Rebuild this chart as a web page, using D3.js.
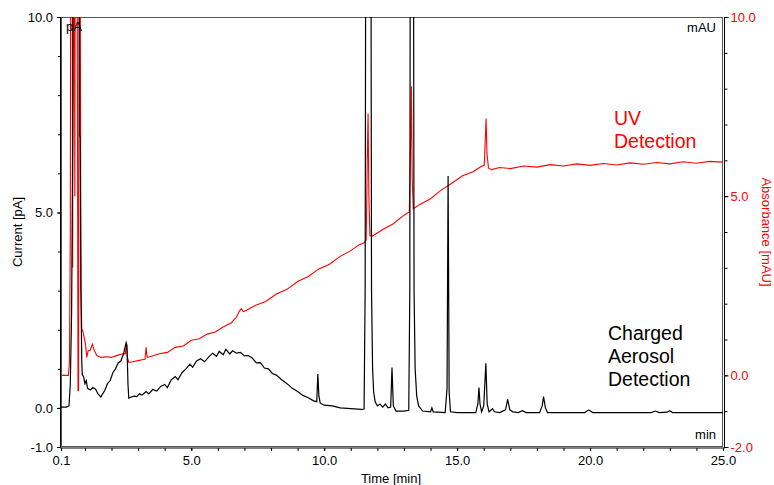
<!DOCTYPE html>
<html>

<head>
    <meta charset="utf-8">
    <style>
        body {
            margin: 0;
            background: #fff;
        }

        svg text {
            font-family: "Liberation Sans", Arial, Helvetica, sans-serif;
        }

        .tick text {
            font-size: 13px;
        }

        .axis .domain {
            display: none;
        }
    </style>
    <script src="https://d3js.org/d3.v7.min.js"></script>
</head>

<body>
    <svg width="774" height="485"></svg>
    <script>
        // charged aerosol detector trace (pA), time in min
        var cadTimes = [0.10, 0.30, 0.40, 0.45, 0.50, 0.55, 0.58, 0.78, 0.80, 0.82, 0.85, 0.88, 0.90, 0.95, 1.00, 1.05, 1.10, 1.20, 1.30, 1.40,
            1.50, 1.60, 1.65, 1.75, 1.85, 1.95, 2.05, 2.15, 2.25, 2.35, 2.45, 2.55, 2.58, 2.62, 2.65, 2.75, 2.85, 2.95, 3.05, 3.15,
            3.30, 3.40, 3.55, 3.70, 3.85, 4.00, 4.10, 4.25, 4.40, 4.50, 4.65, 4.80, 4.95, 5.05, 5.20, 5.35, 5.50, 5.65, 5.80, 5.95,
            6.05, 6.20, 6.30, 6.45, 6.55, 6.70, 6.85, 7.00, 7.15, 7.30, 7.45, 7.60, 7.75, 7.90, 8.05, 8.20, 8.40, 8.60, 8.80, 9.00,
            9.20, 9.40, 9.60, 9.72, 9.76, 9.80, 9.85, 10.0, 10.3, 10.6, 11.0, 11.4, 11.50, 11.54, 11.58, 11.74, 11.78, 11.82, 11.86, 11.92,
            12.0, 12.1, 12.2, 12.3, 12.4, 12.50, 12.55, 12.60, 12.7, 13.0, 13.18, 13.22, 13.25, 13.34, 13.38, 13.42, 13.48, 13.55, 13.7, 14.0,
            14.05, 14.1, 14.55, 14.62, 14.66, 14.70, 14.75, 15.0, 15.7, 15.78, 15.82, 15.86, 15.92, 16.0, 16.08, 16.13, 16.2, 16.33, 16.4, 16.6,
            16.82, 16.9, 16.98, 17.1, 17.3, 17.45, 17.6, 18.1, 18.2, 18.25, 18.32, 18.4, 19.8, 19.95, 20.1, 22.3, 22.46, 22.6, 22.9, 23.0,
            23.1, 25.0];
        var cadValues = [0.02, 0.02, 0.05, 0.6, 2.5, 8, 20, 20, 7.0, 6.9, 3, 1.2, 0.85, 0.8, 0.62, 0.7, 0.5, 0.46, 0.52, 0.48,
            0.35, 0.28, 0.34, 0.45, 0.62, 0.7, 0.9, 1.0, 1.15, 1.2, 1.38, 1.67, 1.6, 0.6, 0.25, 0.28, 0.3, 0.29, 0.36, 0.33,
            0.42, 0.36, 0.47, 0.43, 0.55, 0.6, 0.52, 0.72, 0.8, 0.72, 0.9, 1.0, 1.12, 1.04, 1.2, 1.26, 1.18, 1.3, 1.4, 1.32,
            1.45, 1.36, 1.5, 1.38, 1.46, 1.4, 1.42, 1.33, 1.34, 1.27, 1.15, 1.16, 1.02, 1.0, 0.88, 0.84, 0.72, 0.62, 0.5, 0.42,
            0.32, 0.26, 0.18, 0.16, 0.87, 0.3, 0.12, 0.07, 0.05, 0.0, -0.02, -0.04, -0.03, 3, 20, 20, 3, 1.0, 0.4, 0.15,
            0.05, 0.1, 0.02, 0.1, 0.0, 0.02, 1.03, 0.05, -0.08, -0.08, -0.06, 3, 20, 20, 3, 1, 0.3, 0.05, -0.08, -0.1,
            0.0, -0.1, -0.12, 0.5, 5.93, 0.4, -0.1, -0.12, -0.12, 0.1, 0.52, 0.1, -0.1, 0.05, 1.14, 0.1, -0.1, -0.02, -0.1, -0.12,
            -0.05, 0.22, -0.05, -0.1, -0.12, -0.07, -0.12, -0.12, 0.05, 0.29, 0.0, -0.12, -0.12, -0.05, -0.12, -0.12, -0.08, -0.12, -0.11, -0.07,
            -0.12, -0.12];

        // UV absorbance trace (mAU), time in min
        var uvTimes = [0.10, 0.38, 0.42, 0.45, 0.47, 0.52, 0.54, 0.56, 0.60, 0.62, 0.64, 0.70, 0.74, 0.76, 0.78, 0.82, 0.85, 0.88, 0.92, 0.97,
            1.02, 1.07, 1.12, 1.20, 1.28, 1.35, 1.45, 1.6, 1.8, 2.0, 2.2, 2.4, 2.52, 2.56, 2.60, 2.65, 2.8, 3.0, 3.2, 3.26,
            3.30, 3.34, 3.5, 3.8, 4.1, 4.4, 4.7, 5.0, 5.3, 5.6, 5.9, 6.2, 6.5, 6.6, 6.7, 6.8, 6.88, 6.95, 7.05, 7.4,
            7.8, 8.2, 8.6, 9.0, 9.4, 9.8, 10.2, 10.6, 11.0, 11.3, 11.5, 11.58, 11.62, 11.65, 11.68, 11.72, 11.8, 12.2, 12.6, 13.0,
            13.2, 13.25, 13.28, 13.31, 13.35, 13.6, 14.0, 14.4, 14.8, 15.2, 15.6, 15.9, 16.02, 16.07, 16.09, 16.12, 16.18, 16.3, 16.6, 17.0,
            17.5, 18.0, 18.5, 19.0, 19.5, 20.0, 20.5, 21.0, 21.5, 22.0, 22.5, 23.0, 23.5, 24.0, 24.5, 25.0];
        var uvValues = [0.0, 0.0, 0.4, 4, 15, 15, 3, 15, 15, 5, 15, 15, -0.43, -0.43, 12, 12, 2.5, 1.3, 1.24, 1.06,
            0.87, 0.5, 0.69, 0.7, 0.87, 0.7, 0.55, 0.5, 0.52, 0.5, 0.55, 0.6, 0.6, 0.87, 0.5, 0.36, 0.38, 0.41, 0.44, 0.45,
            0.78, 0.5, 0.53, 0.6, 0.64, 0.78, 0.82, 0.98, 1.02, 1.15, 1.21, 1.35, 1.46, 1.55, 1.62, 1.78, 1.86, 1.78, 1.8, 1.95,
            2.06, 2.27, 2.4, 2.62, 2.76, 2.97, 3.1, 3.32, 3.48, 3.64, 3.7, 3.78, 6, 7.31, 5, 3.9, 3.88, 4.07, 4.23, 4.47,
            4.56, 6.5, 8.07, 5.5, 4.65, 4.77, 4.93, 5.17, 5.36, 5.57, 5.68, 5.83, 5.86, 6.8, 7.17, 6.2, 5.78, 5.74, 5.8, 5.77,
            5.84, 5.81, 5.88, 5.84, 5.9, 5.86, 5.91, 5.87, 5.93, 5.89, 5.94, 5.9, 5.96, 5.92, 5.97, 5.95];

        var timeTicks = [0.1, 5, 10, 15, 20, 25];
        var currentTicks = [-1, 0, 5, 10];
        var absorbanceTicks = [-2, 0, 5, 10];

        var svg = d3.select("svg"),
            plotLeft = 61,
            plotRight = 723,
            plotTop = 17,
            plotBottom = 447;

        var x = d3.scaleLinear().domain([0.1, 25]).range([plotLeft, plotRight]);
        var yL = d3.scaleLinear().domain([-1, 10]).range([plotBottom, plotTop]);
        var yR = d3.scaleLinear().domain([-2, 10]).range([plotBottom, plotTop]);

        var fmt = function (d) { return d.toFixed(1); };

        svg.append("clipPath")
            .attr("id", "plot")
            .append("rect")
            .attr("x", plotLeft)
            .attr("y", plotTop)
            .attr("width", plotRight - plotLeft)
            .attr("height", plotBottom - plotTop);

        // frame
        svg.append("rect")
            .attr("x", plotLeft + 0.5)
            .attr("y", plotTop + 0.5)
            .attr("width", plotRight - plotLeft - 1)
            .attr("height", plotBottom - plotTop - 1)
            .attr("fill", "none")
            .attr("stroke", "#555");

        // minor ticks
        svg.append("g")
            .attr("class", "axis")
            .attr("transform", "translate(" + plotLeft + ",0)")
            .call(d3.axisLeft(yL).tickValues(d3.range(-1, 11)).tickSize(3).tickFormat(""));
        svg.append("g")
            .attr("class", "axis")
            .attr("transform", "translate(" + (plotRight + 1.5) + ",0)")
            .call(d3.axisRight(yR).tickValues(d3.range(-2, 11)).tickSize(3).tickFormat(""));
        svg.append("g")
            .attr("class", "axis")
            .attr("transform", "translate(0," + (plotBottom + 1) + ")")
            .call(d3.axisBottom(x).tickValues([0.1].concat(d3.range(1, 26))).tickSize(3).tickFormat(""));

        // labelled axes
        svg.append("g")
            .attr("class", "axis")
            .attr("transform", "translate(" + plotLeft + ",0)")
            .call(d3.axisLeft(yL).tickValues(currentTicks).tickSize(4).tickPadding(4).tickFormat(fmt));

        var rAxis = svg.append("g")
            .attr("class", "axis")
            .attr("transform", "translate(" + (plotRight + 1.5) + ",0)")
            .call(d3.axisRight(yR).tickValues(absorbanceTicks).tickSize(4).tickPadding(2).tickFormat(fmt));
        rAxis.selectAll("text").attr("fill", "#f00");

        svg.append("g")
            .attr("class", "axis")
            .attr("transform", "translate(0," + (plotBottom + 1) + ")")
            .call(d3.axisBottom(x).tickValues(timeTicks).tickSize(3).tickPadding(5).tickFormat(fmt));

        // axis lines
        svg.append("line").attr("x1", plotLeft - 0.5).attr("x2", plotLeft - 0.5).attr("y1", plotTop).attr("y2", plotBottom + 1)
            .attr("stroke", "#000");
        svg.append("line").attr("x1", plotRight + 1.5).attr("x2", plotRight + 1.5).attr("y1", plotTop).attr("y2", plotBottom + 1)
            .attr("stroke", "#000");
        svg.append("line").attr("x1", plotLeft - 0.5).attr("x2", plotRight + 1.5).attr("y1", plotBottom + 1).attr("y2", plotBottom + 1)
            .attr("stroke", "#000");

        // traces
        var uvLine = d3.line()
            .x(function (d, i) { return x(uvTimes[i]); })
            .y(function (d) { return yR(d); });
        var cadLine = d3.line()
            .x(function (d, i) { return x(cadTimes[i]); })
            .y(function (d) { return yL(d); });

        var traces = svg.append("g").attr("clip-path", "url(#plot)");
        traces.append("path")
            .attr("d", uvLine(uvValues))
            .attr("fill", "none")
            .attr("stroke", "#f00")
            .attr("stroke-width", 1.1);
        traces.append("path")
            .attr("d", cadLine(cadValues))
            .attr("fill", "none")
            .attr("stroke", "#000")
            .attr("stroke-width", 1.2);

        // units inside the frame
        svg.append("text").attr("x", plotLeft + 5).attr("y", 31).attr("font-size", 13).text("pA");
        svg.append("text").attr("x", 716).attr("y", 32).attr("font-size", 13).attr("text-anchor", "end").text("mAU");
        svg.append("text").attr("x", 716).attr("y", 439).attr("font-size", 13).attr("text-anchor", "end").text("min");

        // axis titles
        svg.append("text")
            .attr("transform", "translate(22," + (plotTop + plotBottom) / 2 + ") rotate(-90)")
            .attr("text-anchor", "middle")
            .attr("font-size", 13)
            .text("Current [pA]");
        svg.append("text")
            .attr("transform", "translate(762," + (plotTop + plotBottom) / 2 + ") rotate(90)")
            .attr("text-anchor", "middle")
            .attr("font-size", 13)
            .attr("fill", "#f00")
            .text("Absorbance [mAU]");
        svg.append("text")
            .attr("x", 391)
            .attr("y", 483)
            .attr("text-anchor", "middle")
            .attr("font-size", 13)
            .text("Time [min]");

        // annotations
        var uvNote = svg.append("text").attr("font-size", 19.5).attr("fill", "#f00");
        uvNote.append("tspan").attr("x", 614).attr("y", 125).text("UV");
        uvNote.append("tspan").attr("x", 614).attr("y", 148).text("Detection");

        var cadNote = svg.append("text").attr("font-size", 19.5).attr("fill", "#000");
        cadNote.append("tspan").attr("x", 608).attr("y", 340).text("Charged");
        cadNote.append("tspan").attr("x", 608).attr("y", 363).text("Aerosol");
        cadNote.append("tspan").attr("x", 608).attr("y", 386).text("Detection");
    </script>
</body>

</html>
